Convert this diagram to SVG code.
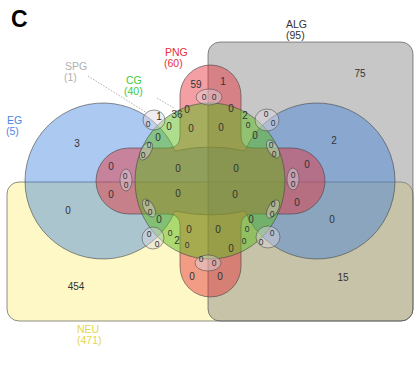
<svg xmlns="http://www.w3.org/2000/svg" width="414" height="391" viewBox="0 0 414 391">
<style>
.set{stroke:#444;stroke-opacity:0.6;stroke-width:1}
.loop{fill:#dcd8e0;fill-opacity:0.45;stroke:#444;stroke-opacity:0.6;stroke-width:0.9}
.n{font-family:"Liberation Sans",Arial,sans-serif;font-size:10px;fill:#333;text-anchor:middle}
.s{font-size:8.5px}
.lab{font-family:"Liberation Sans",Arial,sans-serif;font-size:10.5px}
.lead{stroke:#b0b0b0;stroke-width:1;stroke-dasharray:1.5 1.5;fill:none}
</style>
<rect width="414" height="391" fill="#ffffff"/>
<text x="11" y="27" font-family="Liberation Sans, Arial, sans-serif" font-weight="bold" font-size="23" fill="#000">C</text>

<g id="NEU">
<rect class="set" x="7" y="182" width="406" height="139" rx="12" fill="#fbf081" fill-opacity="0.45"/>
<text class="lab" x="77" y="333" fill="#e3d64a">NEU</text>
<text class="lab" x="77" y="344" fill="#e3d64a">(471)</text>
</g>

<g id="ALG">
<rect class="set" x="208" y="42" width="205" height="279" rx="12" fill="#838383" fill-opacity="0.45"/>
<text class="lab" x="286" y="28" fill="#333">ALG</text>
<text class="lab" x="286" y="39" fill="#333">(95)</text>
</g>

<g id="EG">
<path class="set" fill="#2f78dc" fill-opacity="0.4" d="M175,151 A78,78 0 1 0 175,211 A75,34 0 0 0 245,211 A78,78 0 1 0 245,151 A75,34 0 0 0 175,151 Z"/>
<text class="lab" x="7" y="124" fill="#4a86e8">EG</text>
<text class="lab" x="6" y="135" fill="#4a86e8">(5)</text>
</g>

<g id="PNG">
<path class="set" fill="#e5343c" fill-opacity="0.47" d="M180,95.5 A30.5,30.5 0 0 1 241,95.5 L241,136 Q241,148 253,148 L292,148 A33,33 0 0 1 292,214 L253,214 Q241,214 241,226 L241,266.5 A30.5,30.5 0 0 1 180,266.5 L180,226 Q180,214 168,214 L129,214 A33,33 0 0 1 129,148 L168,148 Q180,148 180,136 Z"/>
<text class="lab" x="165" y="56" fill="#e8303a">PNG</text>
<text class="lab" x="164" y="67" fill="#e8303a">(60)</text>
</g>

<g id="CG">
<ellipse class="set" cx="210" cy="181" rx="75" ry="78" fill="#5cbc1c" fill-opacity="0.5"/>
<text class="lab" x="126" y="84" fill="#3ccc3c">CG</text>
<text class="lab" x="124" y="95" fill="#3ccc3c">(40)</text>
</g>

<g id="SPG">
<ellipse class="loop" cx="154" cy="120" rx="11" ry="10"/>
<ellipse class="loop" cx="267" cy="120" rx="12" ry="11"/>
<ellipse class="loop" cx="153" cy="238" rx="11" ry="11"/>
<ellipse class="loop" cx="268" cy="237" rx="12" ry="11"/>
<ellipse class="loop" cx="209" cy="97" rx="13" ry="8"/>
<ellipse class="loop" cx="208" cy="263" rx="13" ry="8"/>
<ellipse class="loop" cx="126" cy="180" rx="6" ry="11"/>
<ellipse class="loop" cx="293" cy="179" rx="6" ry="11"/>
<ellipse class="loop" cx="146" cy="151" rx="5" ry="10" transform="rotate(30 146 151)"/>
<ellipse class="loop" cx="149" cy="208" rx="5" ry="10" transform="rotate(-30 149 208)"/>
<ellipse class="loop" cx="273" cy="149" rx="5" ry="10" transform="rotate(-30 273 149)"/>
<ellipse class="loop" cx="273" cy="209" rx="5" ry="10" transform="rotate(30 273 209)"/>
<text class="lab" x="65" y="70" fill="#b0b0b0">SPG</text>
<text class="lab" x="64" y="81" fill="#b0b0b0">(1)</text>
</g>

<g id="connectors">
<line class="lead" x1="88" y1="76" x2="147" y2="113"/>
<line class="lead" x1="157" y1="98" x2="174" y2="108"/>
</g>

<g id="counts">
<text class="n" x="196" y="88">59</text>
<text class="n" x="223" y="85">1</text>
<text class="n" x="360" y="77">75</text>
<text class="n" x="77" y="147">3</text>
<text class="n" x="334" y="144">2</text>
<text class="n" x="68" y="214">0</text>
<text class="n" x="332" y="223">0</text>
<text class="n" x="76" y="290">454</text>
<text class="n" x="343" y="281">15</text>
<text class="n" x="111" y="170">0</text>
<text class="n" x="111" y="198">0</text>
<text class="n s" x="125" y="179">0</text>
<text class="n s" x="126" y="188">0</text>
<text class="n" x="307" y="168">0</text>
<text class="n s" x="293" y="178">0</text>
<text class="n s" x="293" y="187">0</text>
<text class="n" x="297" y="206">0</text>
<text class="n" x="178" y="172">0</text>
<text class="n" x="178" y="197">0</text>
<text class="n" x="236" y="172">0</text>
<text class="n" x="235" y="198">0</text>
<text class="n" x="191" y="132">0</text>
<text class="n" x="221" y="131">0</text>
<text class="n" x="189" y="233">0</text>
<text class="n" x="218" y="233">0</text>
<text class="n s" x="204" y="100">0</text>
<text class="n s" x="214" y="100">0</text>
<text class="n" x="187" y="113">0</text>
<text class="n" x="231" y="112">0</text>
<text class="n s" x="201" y="262">0</text>
<text class="n s" x="214" y="266">0</text>
<text class="n" x="192" y="280">0</text>
<text class="n" x="220" y="280">0</text>
<text class="n" x="159" y="120">1</text>
<text class="n" x="177" y="118">36</text>
<text class="n s" x="148" y="127">0</text>
<text class="n" x="169" y="130">0</text>
<text class="n" x="158" y="141">0</text>
<text class="n s" x="149" y="148">0</text>
<text class="n s" x="143" y="158">0</text>
<text class="n" x="245" y="119">2</text>
<text class="n s" x="248" y="128">0</text>
<text class="n s" x="266" y="117">0</text>
<text class="n s" x="273" y="126">0</text>
<text class="n" x="255" y="139">0</text>
<text class="n s" x="271" y="148">0</text>
<text class="n s" x="274" y="157">0</text>
<text class="n s" x="147" y="206">0</text>
<text class="n s" x="150" y="215">0</text>
<text class="n" x="159" y="223">0</text>
<text class="n s" x="149" y="237">0</text>
<text class="n s" x="157" y="247">0</text>
<text class="n s" x="170" y="236">0</text>
<text class="n" x="177" y="244">2</text>
<text class="n s" x="187" y="248">0</text>
<text class="n s" x="273" y="207">0</text>
<text class="n s" x="272" y="217">0</text>
<text class="n" x="251" y="223">0</text>
<text class="n s" x="247" y="232">0</text>
<text class="n s" x="272" y="236">0</text>
<text class="n s" x="244" y="244">0</text>
<text class="n s" x="261" y="245">0</text>
<text class="n" x="231" y="252">0</text>
</g>
</svg>
